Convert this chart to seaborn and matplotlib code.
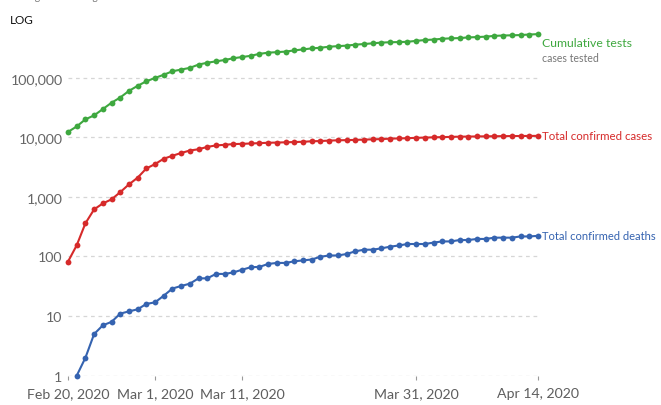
import pandas as pd
import matplotlib
matplotlib.use('Agg')
import matplotlib.pyplot as plt
import seaborn as sns
from matplotlib.ticker import FixedLocator, NullLocator

start = '2020-02-20'
end = '2020-04-14'

# cumulative tests, Feb 20 .. Apr 14
tests = [12300, 15200, 20000, 23300, 29700, 38000, 46500, 60000, 73000, 87000,
         99000, 112000, 128000, 137000, 146000, 166000, 178000, 188000, 198000, 212000,
         222000, 233000, 251000, 263000, 268000, 274000, 287000, 298000, 310000, 318000,
         331000, 338000, 345000, 358000, 367000, 377000, 388000, 393000, 396000, 400000,
         415000, 428000, 436000, 450000, 457000, 462000, 474000, 480000, 488000, 503000,
         510000, 514000, 519000, 530000, 538000]

# total confirmed cases, Feb 20 .. Apr 14
cases = [82, 154, 360, 617, 777, 908, 1200, 1620, 2100, 3000,
         3550, 4370, 4900, 5450, 6000, 6300, 6900, 7300, 7480, 7700,
         7760, 7870, 7980, 8090, 8160, 8240, 8320, 8410, 8570, 8650,
         8800, 8900, 8960, 9040, 9140, 9240, 9330, 9480, 9580, 9660,
         9790, 9890, 9980, 10060, 10160, 10240, 10280, 10330, 10380, 10420,
         10450, 10480, 10510, 10540, 10560]

# total confirmed deaths, Feb 21 .. Apr 14
deaths = [1, 2, 5, 7, 8, 11, 12, 13, 16, 17,
          22, 29, 32, 35, 43, 43, 51, 51, 54, 60,
          66, 67, 75, 78, 78, 83, 86, 89, 99, 104,
          104, 110, 122, 130, 130, 137, 146, 153, 162, 162,
          162, 171, 179, 179, 189, 189, 197, 197, 207, 207,
          207, 217, 217, 222]

series_names = ['Cumulative tests', 'Total confirmed cases', 'Total confirmed deaths']
colors = {'Cumulative tests': '#3ea83f',
          'Total confirmed cases': '#d62a2a',
          'Total confirmed deaths': '#3563b0'}

tick_dates = ['2020-02-20', '2020-03-01', '2020-03-11', '2020-03-31', '2020-04-14']
tick_labels = ['Feb 20, 2020', 'Mar 1, 2020', 'Mar 11, 2020', 'Mar 31, 2020', 'Apr 14, 2020']
y_ticks = [1, 10, 100, 1000, 10000, 100000]

dates = pd.date_range(start, end)
df = pd.concat([
    pd.DataFrame({'date': dates, 'value': tests, 'series': series_names[0]}),
    pd.DataFrame({'date': dates, 'value': cases, 'series': series_names[1]}),
    pd.DataFrame({'date': dates[1:], 'value': deaths, 'series': series_names[2]}),
])

sns.set_style('white')
plt.rcParams['font.family'] = ['Lato', 'DejaVu Sans']

fig = plt.figure(figsize=(6.61, 4.06), dpi=100)
ax = fig.add_axes([68 / 661, (406 - 376.7) / 406, 470 / 661, 345.7 / 406])

sns.lineplot(data=df, x='date', y='value', hue='series', hue_order=series_names,
             palette=colors, marker='o', markersize=4.2, markeredgewidth=0,
             linewidth=1.5, legend=False, ax=ax, clip_on=False, zorder=3)

ax.set_yscale('log')
ax.set_ylim(1, 10 ** 5.8)
ax.set_xlim(dates[0], dates[-1])
ax.yaxis.set_major_locator(FixedLocator(y_ticks))
ax.yaxis.set_minor_locator(NullLocator())
ax.set_yticklabels([f'{v:,}' for v in y_ticks])
ax.set_xticks(pd.to_datetime(tick_dates))
ax.set_xticklabels(tick_labels)
ax.set_xlabel('')
ax.set_ylabel('')

ax.yaxis.grid(True, linestyle=(0, (3, 3)), color='#d6d6d6', linewidth=0.9)
ax.xaxis.grid(False)
for s in ax.spines.values():
    s.set_visible(False)

ax.tick_params(axis='y', length=0, pad=4, labelsize=10.2, labelcolor='#666666')
ax.tick_params(axis='x', length=3, width=0.8, color='#999999', pad=5,
               labelsize=10.2, labelcolor='#5e5e5e', bottom=True)

# labels at line ends
ax.annotate('Cumulative tests', xy=(dates[-1], tests[-1]), xytext=(3, -6),
            textcoords='offset points', va='center', ha='left',
            color='#3ea83f', fontsize=8.8, annotation_clip=False)
ax.annotate('cases tested', xy=(dates[-1], tests[-1]), xytext=(3, -17),
            textcoords='offset points', va='center', ha='left',
            color='#777777', fontsize=7.6, annotation_clip=False)
ax.annotate('Total confirmed cases', xy=(dates[-1], cases[-1]), xytext=(3, 0),
            textcoords='offset points', va='center', ha='left',
            color='#d62a2a', fontsize=8.3, annotation_clip=False)
ax.annotate('Total confirmed deaths', xy=(dates[-1], deaths[-1]), xytext=(3, 0),
            textcoords='offset points', va='center', ha='left',
            color='#3563b0', fontsize=8.0, annotation_clip=False)

fig.text(10 / 661, 1.0 + 2 / 406, 'testing and challenges in the attribution of the cause of death.',
         va='center', ha='left', color='#777777', fontsize=7.2)
fig.text(10 / 661, 1 - 20 / 406, 'LOG', va='center', ha='left', color='#111111',
         fontsize=8.5)

fig.savefig('out.png', dpi=100)
